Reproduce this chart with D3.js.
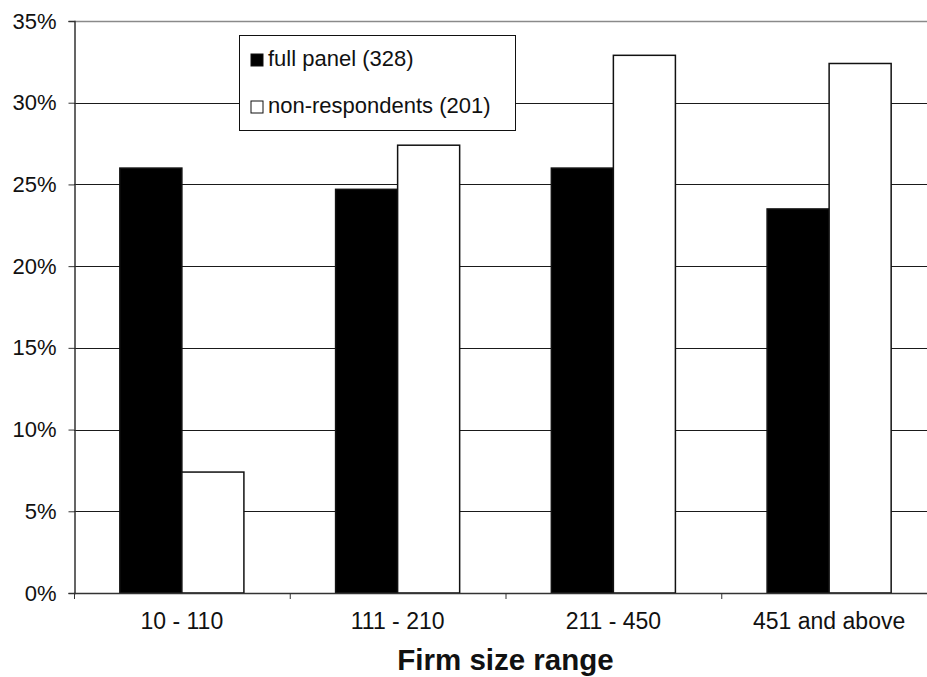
<!DOCTYPE html>
<html>
<head>
<meta charset="utf-8">
<script src="https://cdn.jsdelivr.net/npm/d3@7"></script>
<style>
  html, body { margin: 0; padding: 0; background: #fff; }
  svg { display: block; font-family: "Liberation Sans", Arial, Helvetica, sans-serif; }
</style>
</head>
<body>
<svg id="chart" width="927" height="677"></svg>
<script>
// Share of firms by size range
const categories = ["10 - 110", "111 - 210", "211 - 450", "451 and above"];
const seriesNames = ["full panel (328)", "non-respondents (201)"];
const fullPanel = [0.260, 0.247, 0.260, 0.235];
const nonRespondents = [0.074, 0.274, 0.329, 0.324];
const yTicks = [0, 0.05, 0.10, 0.15, 0.20, 0.25, 0.30, 0.35];
const xTitle = "Firm size range";

const seriesValues = [fullPanel, nonRespondents];
const seriesFill = ["#000", "#fff"];

const svg = d3.select("#chart");
const plotLeft = 74, plotRight = 937, plotTop = 21, plotBottom = 593;

const y = d3.scaleLinear().domain([0, 0.35]).range([plotBottom, plotTop]);
const x0 = d3.scaleBand().domain(categories).range([plotLeft, plotRight])
  .paddingInner(0.425).paddingOuter(0.2125);
const x1 = d3.scaleBand().domain(seriesNames).range([0, x0.bandwidth()]).padding(0);
const step = x0.step();

// horizontal gridlines
svg.append("g").selectAll("line").data(yTicks.slice(1)).join("line")
  .attr("x1", plotLeft).attr("x2", plotRight)
  .attr("y1", d => Math.round(y(d)) + 0.5).attr("y2", d => Math.round(y(d)) + 0.5)
  .attr("stroke", d => d === 0.35 ? "#8a8a8a" : "#1a1a1a")
  .attr("stroke-width", d => d === 0.35 ? 1.6 : 1);

// bars
const groups = svg.append("g").selectAll("g").data(categories).join("g")
  .attr("transform", c => `translate(${x0(c)},0)`);
groups.selectAll("rect")
  .data((c, i) => seriesNames.map((s, k) => ({ s, k, v: seriesValues[k][i] })))
  .join("rect")
  .attr("x", d => x1(d.s))
  .attr("width", x1.bandwidth())
  .attr("y", d => y(d.v))
  .attr("height", d => y(0) - y(d.v))
  .attr("fill", d => seriesFill[d.k])
  .attr("stroke", "#111")
  .attr("stroke-width", 1.5);

// y axis
const yAxis = d3.axisLeft(y).tickValues(yTicks).tickSize(6).tickPadding(12)
  .tickFormat(d3.format(".0%"));
const gy = svg.append("g").attr("transform", `translate(${plotLeft + 0.5},0)`).call(yAxis);
gy.select(".domain").attr("stroke", "#333").attr("stroke-width", 1.5);
gy.selectAll(".tick line").attr("stroke", "#333");
gy.selectAll(".tick text").attr("font-size", 22).attr("fill", "#111")
  .attr("font-family", "Liberation Sans, Arial, sans-serif");

// x axis line and category ticks at group boundaries
svg.append("line").attr("x1", plotLeft).attr("x2", plotRight)
  .attr("y1", plotBottom + 0.5).attr("y2", plotBottom + 0.5)
  .attr("stroke", "#333").attr("stroke-width", 1.5);
svg.append("g").selectAll("line").data(d3.range(0, categories.length + 1)).join("line")
  .attr("x1", i => plotLeft + i * step + 0.5).attr("x2", i => plotLeft + i * step + 0.5)
  .attr("y1", plotBottom).attr("y2", plotBottom + 6)
  .attr("stroke", "#333");
svg.append("g").selectAll("text").data(categories).join("text")
  .attr("x", c => x0(c) + x0.bandwidth() / 2)
  .attr("y", 629)
  .attr("text-anchor", "middle")
  .attr("font-size", 23)
  .attr("fill", "#111")
  .text(c => c);

// axis title
svg.append("text")
  .attr("x", (plotLeft + plotRight) / 2).attr("y", 670)
  .attr("text-anchor", "middle")
  .attr("font-size", 29.5).attr("font-weight", "bold")
  .attr("fill", "#111")
  .text(xTitle);

// legend
const legend = svg.append("g");
legend.append("rect").attr("x", 239.5).attr("y", 35.5).attr("width", 276).attr("height", 95)
  .attr("fill", "#fff").attr("stroke", "#111").attr("stroke-width", 1);
const rows = legend.selectAll("g").data(seriesNames).join("g")
  .attr("transform", (d, i) => `translate(0,${i * 47})`);
rows.append("rect").attr("x", 251).attr("y", 54).attr("width", 12).attr("height", 12)
  .attr("fill", (d, i) => seriesFill[i]).attr("stroke", "#111").attr("stroke-width", 1);
rows.append("text").attr("x", 268).attr("y", 66)
  .attr("font-size", 22).attr("fill", "#111").text(d => d);
</script>
</body>
</html>
